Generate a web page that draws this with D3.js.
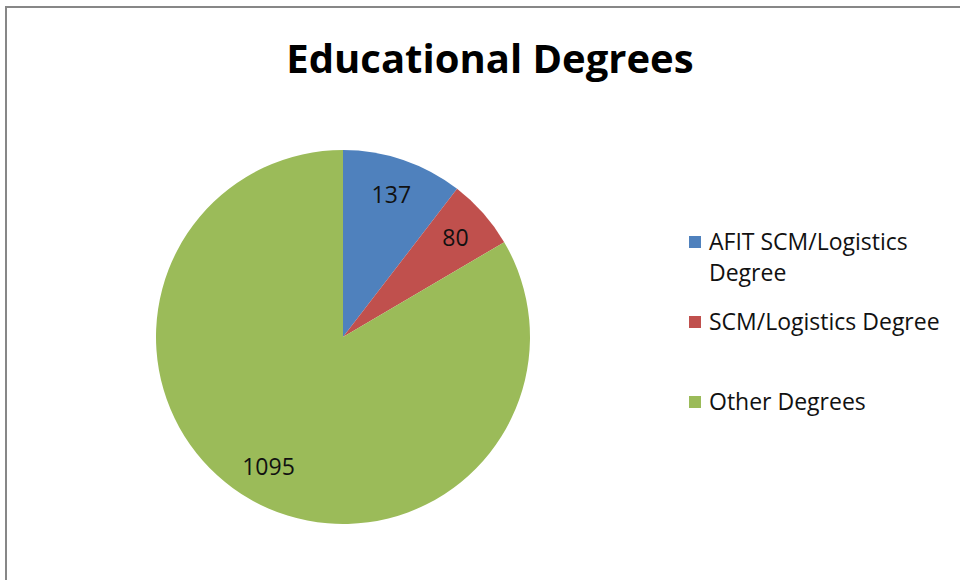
<!DOCTYPE html>
<html>
<head>
<meta charset="utf-8">
<script src="https://cdn.jsdelivr.net/npm/d3@7"></script>
<style>
  html, body { margin: 0; padding: 0; background: #fff; }
  svg { display: block; }
</style>
</head>
<body>
<svg id="chart" width="960" height="580"></svg>
<script>
const title = "Educational Degrees";
const categories = ["AFIT SCM/Logistics Degree", "SCM/Logistics Degree", "Other Degrees"];
const legendLines = [["AFIT SCM/Logistics", "Degree"], ["SCM/Logistics Degree"], ["Other Degrees"]];
const values = [137, 80, 1095];
const colors = ["#4F81BD", "#C0504D", "#9BBB59"];

const svg = d3.select("#chart");
const fontFamily = "'Open Sans', Lato, 'DejaVu Sans', sans-serif";

// outer frame (extends beyond the image at right/bottom)
svg.append("rect")
  .attr("x", 6).attr("y", 7).attr("width", 1000).attr("height", 1000)
  .attr("fill", "#fff").attr("stroke", "#878787").attr("stroke-width", 2);

// title
svg.append("text")
  .attr("x", 490).attr("y", 73)
  .attr("text-anchor", "middle")
  .attr("font-family", fontFamily)
  .attr("font-weight", "bold")
  .attr("font-size", 40)
  .attr("fill", "#000")
  .text(title);

const cx = 343, cy = 337, R = 187;
const data = categories.map((c, i) => ({ name: c, value: values[i], color: colors[i] }));
const pie = d3.pie().sort(null).value(d => d.value);
const arc = d3.arc().innerRadius(0).outerRadius(R);
const labelArc = d3.arc().innerRadius(150).outerRadius(150);

const g = svg.append("g").attr("transform", `translate(${cx},${cy})`);
const arcs = pie(data);
g.selectAll("path").data(arcs).join("path")
  .attr("d", arc)
  .attr("fill", d => d.data.color);

g.selectAll("text.lbl").data(arcs).join("text")
  .attr("class", "lbl")
  .attr("x", d => labelArc.centroid(d)[0])
  .attr("y", d => labelArc.centroid(d)[1])
  .attr("dy", "0.35em")
  .attr("text-anchor", "middle")
  .attr("font-family", fontFamily)
  .attr("font-size", 23)
  .attr("fill", "#111")
  .text(d => d.data.value);

// legend
const legendY = [242, 322, 402];
const lg = svg.append("g");
data.forEach((d, i) => {
  const y = legendY[i];
  lg.append("rect")
    .attr("x", 689).attr("y", y - 6).attr("width", 12).attr("height", 12)
    .attr("fill", d.color);
  const t = lg.append("text")
    .attr("x", 709).attr("y", y)
    .attr("font-family", fontFamily)
    .attr("font-size", 23)
    .attr("fill", "#111");
  legendLines[i].forEach((line, j) => {
    t.append("tspan").attr("x", 709).attr("dy", j === 0 ? "0.35em" : 31).text(line);
  });
});
</script>
</body>
</html>
